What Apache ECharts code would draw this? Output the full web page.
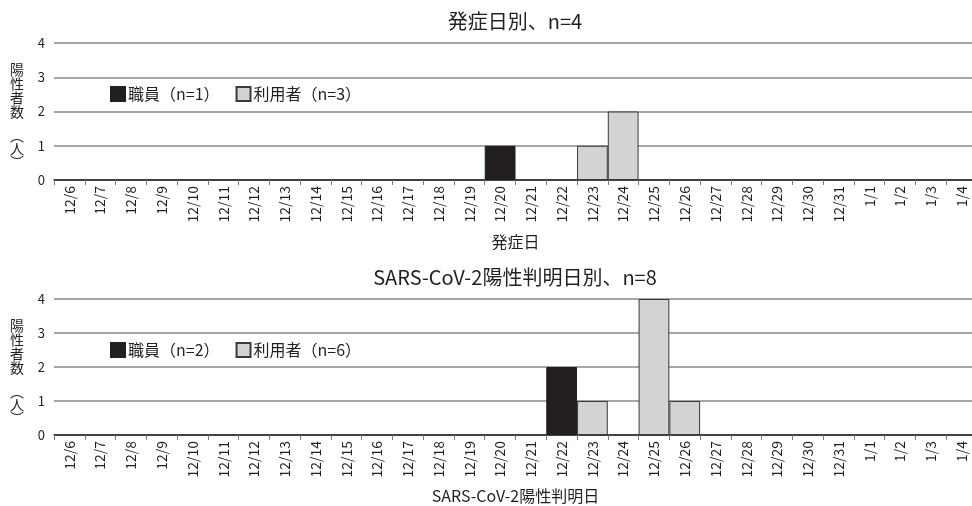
<!DOCTYPE html>
<html>
<head>
<meta charset="utf-8">
<script src="https://cdn.jsdelivr.net/npm/echarts@6/dist/echarts.min.js"></script>
<style>
  html, body { margin: 0; padding: 0; background: #ffffff; }
  #chart { width: 972px; height: 506px; }
</style>
</head>
<body>
<div id="chart"></div>
<script>
// Dates shown on both panels (12/6 – 1/4)
const dates = [
  '12/6','12/7','12/8','12/9','12/10','12/11','12/12','12/13','12/14','12/15',
  '12/16','12/17','12/18','12/19','12/20','12/21','12/22','12/23','12/24','12/25',
  '12/26','12/27','12/28','12/29','12/30','12/31','1/1','1/2','1/3','1/4'
];

// Panel 1: by onset date
const onsetStaff = [0,0,0,0,0,0,0,0,0,0, 0,0,0,0,1,0,0,0,0,0, 0,0,0,0,0,0,0,0,0,0];
const onsetUsers = [0,0,0,0,0,0,0,0,0,0, 0,0,0,0,0,0,0,1,2,0, 0,0,0,0,0,0,0,0,0,0];

// Panel 2: by SARS-CoV-2 positive confirmation date
const confirmStaff = [0,0,0,0,0,0,0,0,0,0, 0,0,0,0,0,0,2,0,0,0, 0,0,0,0,0,0,0,0,0,0];
const confirmUsers = [0,0,0,0,0,0,0,0,0,0, 0,0,0,0,0,0,0,1,0,4, 1,0,0,0,0,0,0,0,0,0];

const yTicks = [0, 1, 2, 3, 4];

const titles = ['発症日別、n=4', 'SARS-CoV-2陽性判明日別、n=8'];
const axisNames = ['発症日', 'SARS-CoV-2陽性判明日'];
const yNameMain = ['陽', '性', '者', '数'];
const yNameUnit = ['︵', '人', '︶'];
const seriesNames = [
  ['職員（n=1）', '利用者（n=3）'],
  ['職員（n=2）', '利用者（n=6）']
];

const FONT = "'Noto Sans CJK JP', 'Noto Sans', sans-serif";
const TEXT = '#231f20';
const STAFF = '#231f20';
const USERS = '#d3d3d3';

// zero counts are left empty so no flat bar is drawn
const asBars = arr => arr.map(v => (v === 0 ? '-' : v));

const gridTops = [43, 299];
const gridHeights = [137, 136];

const chart = echarts.init(document.getElementById('chart'), null, { renderer: 'canvas' });

function xAxisFor(i, gap) {
  return {
    type: 'category',
    gridIndex: i,
    data: dates,
    boundaryGap: true,
    name: axisNames[i],
    nameLocation: 'middle',
    nameGap: gap,
    nameTextStyle: { fontFamily: FONT, fontSize: 16, color: TEXT },
    axisLine: { lineStyle: { color: '#231f20', width: 1.5 } },
    axisTick: { show: true, length: 5, interval: 0, lineStyle: { color: '#777', width: 1 } },
    axisLabel: {
      interval: 0, rotate: 90, margin: 6,
      fontFamily: FONT, fontSize: 14, color: TEXT
    },
    splitLine: { show: false }
  };
}

function yAxisFor(i) {
  return {
    type: 'value',
    gridIndex: i,
    min: yTicks[0],
    max: yTicks[yTicks.length - 1],
    interval: 1,
    axisLine: { show: false },
    axisTick: { show: false },
    axisLabel: { margin: 9, fontFamily: FONT, fontSize: 13, color: TEXT },
    splitLine: { show: true, lineStyle: { color: '#888888', width: 1.5 } }
  };
}

function barSeries(name, data, i, color, border) {
  return {
    type: 'bar',
    name: name,
    xAxisIndex: i,
    yAxisIndex: i,
    stack: 'panel' + i,
    barWidth: '100%',
    data: asBars(data),
    itemStyle: { color: color, borderColor: border, borderWidth: 1 },
    emphasis: { disabled: true },
    z: 3
  };
}

function legendFor(i, top) {
  return {
    data: seriesNames[i],
    left: 110,
    top: top,
    padding: 0,
    orient: 'horizontal',
    itemWidth: 14,
    itemHeight: 14,
    itemGap: 16,
    icon: 'rect',
    selectedMode: false,
    textStyle: { fontFamily: FONT, fontSize: 16, color: TEXT, padding: [0, 0, 0, -2] }
  };
}

// vertical y-axis caption, drawn as two stacked text blocks per panel
function yCaption(i) {
  const t = gridTops[i];
  const base = { fontFamily: FONT, fontSize: 14, fill: TEXT, align: 'center' };
  return [
    {
      type: 'text', x: 17, y: t + 20,
      style: Object.assign({ text: yNameMain.join('\n'), lineHeight: 13.8 }, base)
    },
    {
      type: 'text', x: 17, y: t + 86,
      style: Object.assign({ text: yNameUnit.join('\n'), lineHeight: 13 }, base)
    }
  ];
}

const option = {
  backgroundColor: '#ffffff',
  animation: false,
  title: titles.map((t, i) => ({
    text: t,
    left: 515,
    top: i === 0 ? 11 : 267,
    padding: 0,
    textAlign: 'center',
    textStyle: { fontFamily: FONT, fontSize: 20, fontWeight: 'normal', color: TEXT }
  })),
  legend: [legendFor(0, 86), legendFor(1, 342)],
  grid: gridTops.map((t, i) => ({
    left: 54, top: t, width: 923, height: gridHeights[i],
    containLabel: false, outerBoundsMode: 'none'
  })),
  xAxis: [xAxisFor(0, 54), xAxisFor(1, 53)],
  yAxis: [yAxisFor(0), yAxisFor(1)],
  series: [
    barSeries(seriesNames[0][0], onsetStaff, 0, STAFF, '#231f20'),
    barSeries(seriesNames[0][1], onsetUsers, 0, USERS, '#3a3a3a'),
    barSeries(seriesNames[1][0], confirmStaff, 1, STAFF, '#231f20'),
    barSeries(seriesNames[1][1], confirmUsers, 1, USERS, '#3a3a3a')
  ],
  graphic: yCaption(0).concat(yCaption(1))
};

chart.setOption(option);
</script>
</body>
</html>
